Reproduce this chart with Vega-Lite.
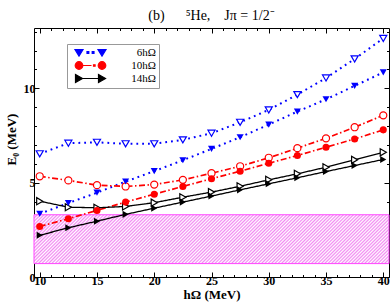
{
  "$schema": "https://vega.github.io/schema/vega-lite/v6.json",
  "width": 355,
  "height": 249,
  "autosize": {"type": "none"},
  "padding": {"left": 34, "top": 28, "right": 1, "bottom": 27},
  "title": {"text": "(b)\u2003\u2002\u2075He,\u2003J\u03c0 = 1/2\u207b", "font": "Liberation Serif", "fontSize": 14, "fontWeight": "normal", "color": "black", "anchor": "middle", "frame": "group", "offset": 5},
  "config": {
    "view": {"stroke": "black", "strokeWidth": 1},
    "axis": {"grid": false, "domain": false, "labelFont": "Liberation Serif", "labelFontWeight": "bold", "labelFontSize": 12, "labelColor": "black", "tickColor": "black", "tickWidth": 1, "titleFont": "Liberation Serif", "titleFontWeight": "bold", "titleFontSize": 13, "titleColor": "black", "zindex": 1}
  },
  "datasets": {
    "band": [{"x0": 9.5, "x1": 40.5, "lo": 0.71, "hi": 3.3}],
    "curves": [
      {"n": "6hΩ", "k": "open", "x": 10, "y": 6.53},
      {"n": "6hΩ", "k": "open", "x": 12.5, "y": 7.09},
      {"n": "6hΩ", "k": "open", "x": 15, "y": 7.14},
      {"n": "6hΩ", "k": "open", "x": 17.5, "y": 7.06},
      {"n": "6hΩ", "k": "open", "x": 20, "y": 7.06},
      {"n": "6hΩ", "k": "open", "x": 22.5, "y": 7.27},
      {"n": "6hΩ", "k": "open", "x": 25, "y": 7.62},
      {"n": "6hΩ", "k": "open", "x": 27.5, "y": 8.2},
      {"n": "6hΩ", "k": "open", "x": 30, "y": 8.86},
      {"n": "6hΩ", "k": "open", "x": 32.5, "y": 9.67},
      {"n": "6hΩ", "k": "open", "x": 35, "y": 10.55},
      {"n": "6hΩ", "k": "open", "x": 37.5, "y": 11.56},
      {"n": "6hΩ", "k": "open", "x": 40, "y": 12.65},
      {"n": "6hΩ", "k": "filled", "x": 10, "y": 3.35},
      {"n": "6hΩ", "k": "filled", "x": 12.5, "y": 3.92},
      {"n": "6hΩ", "k": "filled", "x": 15, "y": 4.47},
      {"n": "6hΩ", "k": "filled", "x": 17.5, "y": 5.06},
      {"n": "6hΩ", "k": "filled", "x": 20, "y": 5.61},
      {"n": "6hΩ", "k": "filled", "x": 22.5, "y": 6.19},
      {"n": "6hΩ", "k": "filled", "x": 25, "y": 6.79},
      {"n": "6hΩ", "k": "filled", "x": 27.5, "y": 7.41},
      {"n": "6hΩ", "k": "filled", "x": 30, "y": 8.08},
      {"n": "6hΩ", "k": "filled", "x": 32.5, "y": 8.77},
      {"n": "6hΩ", "k": "filled", "x": 35, "y": 9.42},
      {"n": "6hΩ", "k": "filled", "x": 37.5, "y": 10.13},
      {"n": "6hΩ", "k": "filled", "x": 40, "y": 10.85},
      {"n": "10hΩ", "k": "open", "x": 10, "y": 5.34},
      {"n": "10hΩ", "k": "open", "x": 12.5, "y": 5.12},
      {"n": "10hΩ", "k": "open", "x": 15, "y": 4.87},
      {"n": "10hΩ", "k": "open", "x": 17.5, "y": 4.8},
      {"n": "10hΩ", "k": "open", "x": 20, "y": 4.9},
      {"n": "10hΩ", "k": "open", "x": 22.5, "y": 5.15},
      {"n": "10hΩ", "k": "open", "x": 25, "y": 5.5},
      {"n": "10hΩ", "k": "open", "x": 27.5, "y": 5.87},
      {"n": "10hΩ", "k": "open", "x": 30, "y": 6.32},
      {"n": "10hΩ", "k": "open", "x": 32.5, "y": 6.83},
      {"n": "10hΩ", "k": "open", "x": 35, "y": 7.35},
      {"n": "10hΩ", "k": "open", "x": 37.5, "y": 7.94},
      {"n": "10hΩ", "k": "open", "x": 40, "y": 8.57},
      {"n": "10hΩ", "k": "filled", "x": 10, "y": 2.68},
      {"n": "10hΩ", "k": "filled", "x": 12.5, "y": 3.09},
      {"n": "10hΩ", "k": "filled", "x": 15, "y": 3.53},
      {"n": "10hΩ", "k": "filled", "x": 17.5, "y": 3.97},
      {"n": "10hΩ", "k": "filled", "x": 20, "y": 4.39},
      {"n": "10hΩ", "k": "filled", "x": 22.5, "y": 4.8},
      {"n": "10hΩ", "k": "filled", "x": 25, "y": 5.21},
      {"n": "10hΩ", "k": "filled", "x": 27.5, "y": 5.61},
      {"n": "10hΩ", "k": "filled", "x": 30, "y": 6.03},
      {"n": "10hΩ", "k": "filled", "x": 32.5, "y": 6.44},
      {"n": "10hΩ", "k": "filled", "x": 35, "y": 6.88},
      {"n": "10hΩ", "k": "filled", "x": 37.5, "y": 7.32},
      {"n": "10hΩ", "k": "filled", "x": 40, "y": 7.8},
      {"n": "14hΩ", "k": "open", "x": 10, "y": 4.02},
      {"n": "14hΩ", "k": "open", "x": 12.5, "y": 3.7},
      {"n": "14hΩ", "k": "open", "x": 15, "y": 3.67},
      {"n": "14hΩ", "k": "open", "x": 17.5, "y": 3.74},
      {"n": "14hΩ", "k": "open", "x": 20, "y": 3.94},
      {"n": "14hΩ", "k": "open", "x": 22.5, "y": 4.23},
      {"n": "14hΩ", "k": "open", "x": 25, "y": 4.5},
      {"n": "14hΩ", "k": "open", "x": 27.5, "y": 4.81},
      {"n": "14hΩ", "k": "open", "x": 30, "y": 5.15},
      {"n": "14hΩ", "k": "open", "x": 32.5, "y": 5.47},
      {"n": "14hΩ", "k": "open", "x": 35, "y": 5.82},
      {"n": "14hΩ", "k": "open", "x": 37.5, "y": 6.21},
      {"n": "14hΩ", "k": "open", "x": 40, "y": 6.61},
      {"n": "14hΩ", "k": "filled", "x": 10, "y": 2.21},
      {"n": "14hΩ", "k": "filled", "x": 12.5, "y": 2.61},
      {"n": "14hΩ", "k": "filled", "x": 15, "y": 2.96},
      {"n": "14hΩ", "k": "filled", "x": 17.5, "y": 3.32},
      {"n": "14hΩ", "k": "filled", "x": 20, "y": 3.65},
      {"n": "14hΩ", "k": "filled", "x": 22.5, "y": 3.97},
      {"n": "14hΩ", "k": "filled", "x": 25, "y": 4.29},
      {"n": "14hΩ", "k": "filled", "x": 27.5, "y": 4.62},
      {"n": "14hΩ", "k": "filled", "x": 30, "y": 4.94},
      {"n": "14hΩ", "k": "filled", "x": 32.5, "y": 5.26},
      {"n": "14hΩ", "k": "filled", "x": 35, "y": 5.59},
      {"n": "14hΩ", "k": "filled", "x": 37.5, "y": 5.91},
      {"n": "14hΩ", "k": "filled", "x": 40, "y": 6.23}
    ]
  },
  "layer": [
    {
      "data": {"name": "band"},
      "mark": {"type": "rect", "stroke": "#ff44ff", "strokeWidth": 1,
        "fill": {"gradient": "linear", "x1": 0, "y1": 0, "x2": 1.15, "y2": 0.1583, "stops": [
          {"offset":0,"color":"#f288f2"},{"offset":0.004,"color":"#fff"},{"offset":0.008,"color":"#f288f2"},{"offset":0.012,"color":"#fff"},{"offset":0.016,"color":"#f288f2"},{"offset":0.02,"color":"#fff"},{"offset":0.024,"color":"#f288f2"},{"offset":0.028,"color":"#fff"},{"offset":0.032,"color":"#f288f2"},{"offset":0.036,"color":"#fff"},
          {"offset":0.04,"color":"#f288f2"},{"offset":0.044,"color":"#fff"},{"offset":0.048,"color":"#f288f2"},{"offset":0.052,"color":"#fff"},{"offset":0.056,"color":"#f288f2"},{"offset":0.06,"color":"#fff"},{"offset":0.064,"color":"#f288f2"},{"offset":0.068,"color":"#fff"},{"offset":0.072,"color":"#f288f2"},{"offset":0.076,"color":"#fff"},
          {"offset":0.08,"color":"#f288f2"},{"offset":0.084,"color":"#fff"},{"offset":0.088,"color":"#f288f2"},{"offset":0.092,"color":"#fff"},{"offset":0.096,"color":"#f288f2"},{"offset":0.1,"color":"#fff"},{"offset":0.104,"color":"#f288f2"},{"offset":0.108,"color":"#fff"},{"offset":0.112,"color":"#f288f2"},{"offset":0.116,"color":"#fff"},
          {"offset":0.12,"color":"#f288f2"},{"offset":0.124,"color":"#fff"},{"offset":0.128,"color":"#f288f2"},{"offset":0.132,"color":"#fff"},{"offset":0.136,"color":"#f288f2"},{"offset":0.14,"color":"#fff"},{"offset":0.144,"color":"#f288f2"},{"offset":0.148,"color":"#fff"},{"offset":0.152,"color":"#f288f2"},{"offset":0.156,"color":"#fff"},
          {"offset":0.16,"color":"#f288f2"},{"offset":0.164,"color":"#fff"},{"offset":0.168,"color":"#f288f2"},{"offset":0.172,"color":"#fff"},{"offset":0.176,"color":"#f288f2"},{"offset":0.18,"color":"#fff"},{"offset":0.184,"color":"#f288f2"},{"offset":0.188,"color":"#fff"},{"offset":0.192,"color":"#f288f2"},{"offset":0.196,"color":"#fff"},
          {"offset":0.2,"color":"#f288f2"},{"offset":0.204,"color":"#fff"},{"offset":0.208,"color":"#f288f2"},{"offset":0.212,"color":"#fff"},{"offset":0.216,"color":"#f288f2"},{"offset":0.22,"color":"#fff"},{"offset":0.224,"color":"#f288f2"},{"offset":0.228,"color":"#fff"},{"offset":0.232,"color":"#f288f2"},{"offset":0.236,"color":"#fff"},
          {"offset":0.24,"color":"#f288f2"},{"offset":0.244,"color":"#fff"},{"offset":0.248,"color":"#f288f2"},{"offset":0.252,"color":"#fff"},{"offset":0.256,"color":"#f288f2"},{"offset":0.26,"color":"#fff"},{"offset":0.264,"color":"#f288f2"},{"offset":0.268,"color":"#fff"},{"offset":0.272,"color":"#f288f2"},{"offset":0.276,"color":"#fff"},
          {"offset":0.28,"color":"#f288f2"},{"offset":0.284,"color":"#fff"},{"offset":0.288,"color":"#f288f2"},{"offset":0.292,"color":"#fff"},{"offset":0.296,"color":"#f288f2"},{"offset":0.3,"color":"#fff"},{"offset":0.304,"color":"#f288f2"},{"offset":0.308,"color":"#fff"},{"offset":0.312,"color":"#f288f2"},{"offset":0.316,"color":"#fff"},
          {"offset":0.32,"color":"#f288f2"},{"offset":0.324,"color":"#fff"},{"offset":0.328,"color":"#f288f2"},{"offset":0.332,"color":"#fff"},{"offset":0.336,"color":"#f288f2"},{"offset":0.34,"color":"#fff"},{"offset":0.344,"color":"#f288f2"},{"offset":0.348,"color":"#fff"},{"offset":0.352,"color":"#f288f2"},{"offset":0.356,"color":"#fff"},
          {"offset":0.36,"color":"#f288f2"},{"offset":0.364,"color":"#fff"},{"offset":0.368,"color":"#f288f2"},{"offset":0.372,"color":"#fff"},{"offset":0.376,"color":"#f288f2"},{"offset":0.38,"color":"#fff"},{"offset":0.384,"color":"#f288f2"},{"offset":0.388,"color":"#fff"},{"offset":0.392,"color":"#f288f2"},{"offset":0.396,"color":"#fff"},
          {"offset":0.4,"color":"#f288f2"},{"offset":0.404,"color":"#fff"},{"offset":0.408,"color":"#f288f2"},{"offset":0.412,"color":"#fff"},{"offset":0.416,"color":"#f288f2"},{"offset":0.42,"color":"#fff"},{"offset":0.424,"color":"#f288f2"},{"offset":0.428,"color":"#fff"},{"offset":0.432,"color":"#f288f2"},{"offset":0.436,"color":"#fff"},
          {"offset":0.44,"color":"#f288f2"},{"offset":0.444,"color":"#fff"},{"offset":0.448,"color":"#f288f2"},{"offset":0.452,"color":"#fff"},{"offset":0.456,"color":"#f288f2"},{"offset":0.46,"color":"#fff"},{"offset":0.464,"color":"#f288f2"},{"offset":0.468,"color":"#fff"},{"offset":0.472,"color":"#f288f2"},{"offset":0.476,"color":"#fff"},
          {"offset":0.48,"color":"#f288f2"},{"offset":0.484,"color":"#fff"},{"offset":0.488,"color":"#f288f2"},{"offset":0.492,"color":"#fff"},{"offset":0.496,"color":"#f288f2"},{"offset":0.5,"color":"#fff"},{"offset":0.504,"color":"#f288f2"},{"offset":0.508,"color":"#fff"},{"offset":0.512,"color":"#f288f2"},{"offset":0.516,"color":"#fff"},
          {"offset":0.52,"color":"#f288f2"},{"offset":0.524,"color":"#fff"},{"offset":0.528,"color":"#f288f2"},{"offset":0.532,"color":"#fff"},{"offset":0.536,"color":"#f288f2"},{"offset":0.54,"color":"#fff"},{"offset":0.544,"color":"#f288f2"},{"offset":0.548,"color":"#fff"},{"offset":0.552,"color":"#f288f2"},{"offset":0.556,"color":"#fff"},
          {"offset":0.56,"color":"#f288f2"},{"offset":0.564,"color":"#fff"},{"offset":0.568,"color":"#f288f2"},{"offset":0.572,"color":"#fff"},{"offset":0.576,"color":"#f288f2"},{"offset":0.58,"color":"#fff"},{"offset":0.584,"color":"#f288f2"},{"offset":0.588,"color":"#fff"},{"offset":0.592,"color":"#f288f2"},{"offset":0.596,"color":"#fff"},
          {"offset":0.6,"color":"#f288f2"},{"offset":0.604,"color":"#fff"},{"offset":0.608,"color":"#f288f2"},{"offset":0.612,"color":"#fff"},{"offset":0.616,"color":"#f288f2"},{"offset":0.62,"color":"#fff"},{"offset":0.624,"color":"#f288f2"},{"offset":0.628,"color":"#fff"},{"offset":0.632,"color":"#f288f2"},{"offset":0.636,"color":"#fff"},
          {"offset":0.64,"color":"#f288f2"},{"offset":0.644,"color":"#fff"},{"offset":0.648,"color":"#f288f2"},{"offset":0.652,"color":"#fff"},{"offset":0.656,"color":"#f288f2"},{"offset":0.66,"color":"#fff"},{"offset":0.664,"color":"#f288f2"},{"offset":0.668,"color":"#fff"},{"offset":0.672,"color":"#f288f2"},{"offset":0.676,"color":"#fff"},
          {"offset":0.68,"color":"#f288f2"},{"offset":0.684,"color":"#fff"},{"offset":0.688,"color":"#f288f2"},{"offset":0.692,"color":"#fff"},{"offset":0.696,"color":"#f288f2"},{"offset":0.7,"color":"#fff"},{"offset":0.704,"color":"#f288f2"},{"offset":0.708,"color":"#fff"},{"offset":0.712,"color":"#f288f2"},{"offset":0.716,"color":"#fff"},
          {"offset":0.72,"color":"#f288f2"},{"offset":0.724,"color":"#fff"},{"offset":0.728,"color":"#f288f2"},{"offset":0.732,"color":"#fff"},{"offset":0.736,"color":"#f288f2"},{"offset":0.74,"color":"#fff"},{"offset":0.744,"color":"#f288f2"},{"offset":0.748,"color":"#fff"},{"offset":0.752,"color":"#f288f2"},{"offset":0.756,"color":"#fff"},
          {"offset":0.76,"color":"#f288f2"},{"offset":0.764,"color":"#fff"},{"offset":0.768,"color":"#f288f2"},{"offset":0.772,"color":"#fff"},{"offset":0.776,"color":"#f288f2"},{"offset":0.78,"color":"#fff"},{"offset":0.784,"color":"#f288f2"},{"offset":0.788,"color":"#fff"},{"offset":0.792,"color":"#f288f2"},{"offset":0.796,"color":"#fff"},
          {"offset":0.8,"color":"#f288f2"},{"offset":0.804,"color":"#fff"},{"offset":0.808,"color":"#f288f2"},{"offset":0.812,"color":"#fff"},{"offset":0.816,"color":"#f288f2"},{"offset":0.82,"color":"#fff"},{"offset":0.824,"color":"#f288f2"},{"offset":0.828,"color":"#fff"},{"offset":0.832,"color":"#f288f2"},{"offset":0.836,"color":"#fff"},
          {"offset":0.84,"color":"#f288f2"},{"offset":0.844,"color":"#fff"},{"offset":0.848,"color":"#f288f2"},{"offset":0.852,"color":"#fff"},{"offset":0.856,"color":"#f288f2"},{"offset":0.86,"color":"#fff"},{"offset":0.864,"color":"#f288f2"},{"offset":0.868,"color":"#fff"},{"offset":0.872,"color":"#f288f2"},{"offset":0.876,"color":"#fff"},
          {"offset":0.88,"color":"#f288f2"},{"offset":0.884,"color":"#fff"},{"offset":0.888,"color":"#f288f2"},{"offset":0.892,"color":"#fff"},{"offset":0.896,"color":"#f288f2"},{"offset":0.9,"color":"#fff"},{"offset":0.904,"color":"#f288f2"},{"offset":0.908,"color":"#fff"},{"offset":0.912,"color":"#f288f2"},{"offset":0.916,"color":"#fff"},
          {"offset":0.92,"color":"#f288f2"},{"offset":0.924,"color":"#fff"},{"offset":0.928,"color":"#f288f2"},{"offset":0.932,"color":"#fff"},{"offset":0.936,"color":"#f288f2"},{"offset":0.94,"color":"#fff"},{"offset":0.944,"color":"#f288f2"},{"offset":0.948,"color":"#fff"},{"offset":0.952,"color":"#f288f2"},{"offset":0.956,"color":"#fff"},
          {"offset":0.96,"color":"#f288f2"},{"offset":0.964,"color":"#fff"},{"offset":0.968,"color":"#f288f2"},{"offset":0.972,"color":"#fff"},{"offset":0.976,"color":"#f288f2"},{"offset":0.98,"color":"#fff"},{"offset":0.984,"color":"#f288f2"},{"offset":0.988,"color":"#fff"},{"offset":0.992,"color":"#f288f2"},{"offset":0.996,"color":"#fff"},
          {"offset":1,"color":"#f288f2"}
        ]}},
      "encoding": {
        "x": {"field": "x0", "type": "quantitative", "scale": {"domain": [9.5, 40.5], "nice": false, "zero": false},
              "axis": {"orient": "bottom", "values": [10, 15, 20, 25, 30, 35, 40], "tickSize": -5, "labelPadding": 3, "title": "hΩ  (MeV)", "titleY": 21.5, "titleBaseline": "alphabetic", "format": "d"}},
        "x2": {"field": "x1"},
        "y": {"field": "lo", "type": "quantitative", "scale": {"domain": [0, 13.2], "nice": false, "zero": false},
              "axis": {"orient": "left", "values": [0, 5, 10], "tickSize": -5, "labelPadding": 4, "title": "E₀ (MeV)", "titleY": 111, "titleX": -19, "titleBaseline": "alphabetic", "format": "d"}},
        "y2": {"field": "hi"}
      }
    },
    {
      "data": {"name": "curves"},
      "mark": {"type": "line"},
      "encoding": {
        "x": {"field": "x", "type": "quantitative", "scale": {"domain": [9.5, 40.5], "nice": false, "zero": false},
              "axis": {"orient": "bottom", "values": [11, 12, 13, 14, 16, 17, 18, 19, 21, 22, 23, 24, 26, 27, 28, 29, 31, 32, 33, 34, 36, 37, 38, 39], "tickSize": -2.5, "labels": false, "title": null}},
        "y": {"field": "y", "type": "quantitative", "scale": {"domain": [0, 13.2], "nice": false, "zero": false},
              "axis": {"orient": "left", "values": [1, 2, 3, 4, 6, 7, 8, 9, 11, 12, 13], "tickSize": -2.5, "labels": false, "title": null}},
        "color": {"field": "n", "type": "nominal", "scale": {"domain": ["6hΩ", "10hΩ", "14hΩ"], "range": ["#0000ff", "#ff0000", "#000000"]}, "legend": null},
        "strokeDash": {"field": "n", "type": "nominal", "scale": {"domain": ["6hΩ", "10hΩ", "14hΩ"], "range": [[1.8, 4], [6, 2.5, 1.5, 2.5], [1, 0]]}, "legend": null},
        "strokeWidth": {"field": "n", "type": "nominal", "scale": {"domain": ["6hΩ", "10hΩ", "14hΩ"], "range": [2, 1.3, 1.3]}, "legend": null},
        "detail": {"field": "k"}
      }
    },
    {
      "data": {"name": "curves"},
      "transform": [{"filter": "datum.k == 'open'"}],
      "mark": {"type": "point", "filled": false, "fill": "white", "opacity": 1, "strokeWidth": 1.2, "size": 50},
      "encoding": {
        "x": {"field": "x", "type": "quantitative", "scale": {"domain": [9.5, 40.5], "nice": false, "zero": false},
              "axis": {"orient": "top", "values": [10, 15, 20, 25, 30, 35, 40], "tickSize": -5, "labels": false, "title": null}},
        "y": {"field": "y", "type": "quantitative", "scale": {"domain": [0, 13.2], "nice": false, "zero": false},
              "axis": {"orient": "right", "values": [0, 5, 10], "tickSize": -5, "labels": false, "title": null}},
        "color": {"field": "n", "type": "nominal", "scale": {"domain": ["6hΩ", "10hΩ", "14hΩ"], "range": ["#0000ff", "#ff0000", "#000000"]}, "legend": null},
        "shape": {"field": "n", "type": "nominal", "scale": {"domain": ["6hΩ", "10hΩ", "14hΩ"], "range": ["triangle-down", "circle", "triangle-right"]}, "legend": null}
      }
    },
    {
      "data": {"name": "curves"},
      "transform": [{"filter": "datum.k == 'filled'"}],
      "mark": {"type": "point", "filled": true, "opacity": 1, "size": 50},
      "encoding": {
        "x": {"field": "x", "type": "quantitative", "scale": {"domain": [9.5, 40.5], "nice": false, "zero": false},
              "axis": {"orient": "top", "values": [11, 12, 13, 14, 16, 17, 18, 19, 21, 22, 23, 24, 26, 27, 28, 29, 31, 32, 33, 34, 36, 37, 38, 39], "tickSize": -2.5, "labels": false, "title": null}},
        "y": {"field": "y", "type": "quantitative", "scale": {"domain": [0, 13.2], "nice": false, "zero": false},
              "axis": {"orient": "right", "values": [1, 2, 3, 4, 6, 7, 8, 9, 11, 12, 13], "tickSize": -2.5, "labels": false, "title": null}},
        "color": {"field": "n", "type": "nominal", "scale": {"domain": ["6hΩ", "10hΩ", "14hΩ"], "range": ["#0000ff", "#ff0000", "#000000"]}, "legend": null},
        "shape": {"field": "n", "type": "nominal", "scale": {"domain": ["6hΩ", "10hΩ", "14hΩ"], "range": ["triangle-down", "circle", "triangle-right"]}, "legend": null}
      }
    },
    {
      "data": {"name": "curves"},
      "transform": [{"filter": "false"}],
      "mark": {"type": "point", "filled": true, "opacity": 1, "size": 4, "strokeWidth": 1.2},
      "encoding": {
        "x": {"field": "x", "type": "quantitative", "axis": null},
        "y": {"field": "y", "type": "quantitative", "axis": null},
        "fill": {"field": "n", "type": "nominal", "scale": {"domain": ["6hΩ", "10hΩ", "14hΩ"], "range": ["#0000ff", "#ff0000", "#000000"]}},
        "stroke": {"field": "n", "type": "nominal", "scale": {"domain": ["6hΩ", "10hΩ", "14hΩ"], "range": ["#0000ff", "#ff0000", "#000000"]}},
        "shape": {"field": "n", "type": "nominal",
                  "scale": {"domain": ["6hΩ", "10hΩ", "14hΩ"], "range": [
                    "M-15.5,-3L-7.5,-3L-11.5,3.5Z M7.5,-3L15.5,-3L11.5,3.5Z M-3.5,-0.9H-1.7V0.9H-3.5Z M1.7,-0.9H3.5V0.9H1.7Z",
                    "M-15.3,0A3.8,3.8,0,1,1,-7.7,0A3.8,3.8,0,1,1,-15.3,0Z M7.7,0A3.8,3.8,0,1,1,15.3,0A3.8,3.8,0,1,1,7.7,0Z M-7.7,0H1 M3,-0.7H4.6V0.7H3Z",
                    "M-15,-4L-8,0L-15,4Z M8,-4L15,0L8,4Z M-8,0H8"]},
                  "legend": {"orient": "none", "legendX": 33, "legendY": 16, "title": null, "fillColor": "white", "strokeColor": "#999999", "padding": 3, "symbolSize": 4, "symbolStrokeWidth": 1.2, "symbolOffset": 15, "labelOffset": 60, "labelAlign": "right", "labelFont": "Liberation Serif", "labelFontSize": 11, "labelColor": "black", "rowPadding": 0}}
      }
    }
  ],
  "resolve": {"axis": {"x": "independent", "y": "independent"}, "scale": {"shape": "independent", "fill": "independent", "stroke": "independent"}}
}
